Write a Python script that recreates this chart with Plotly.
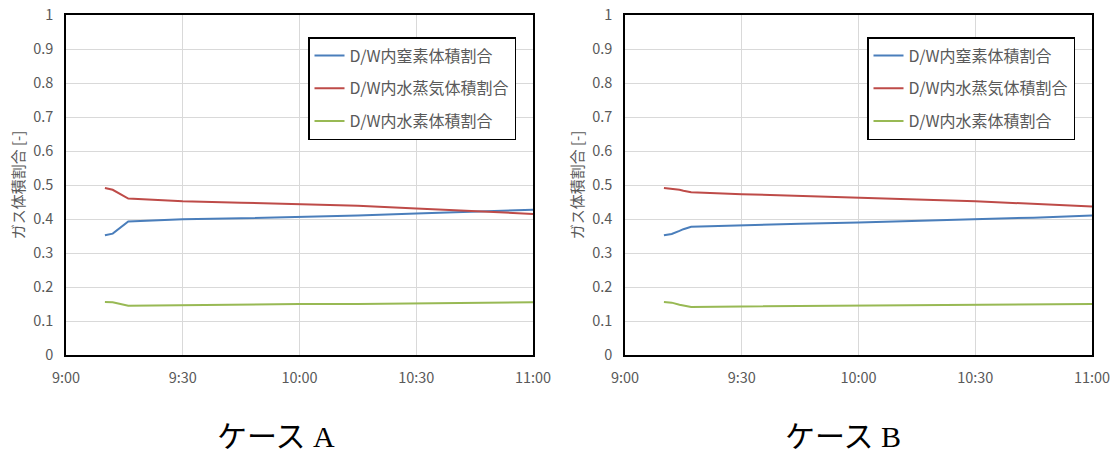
import plotly.graph_objects as go

# ---- data ----
times_a = ["09:10", "09:12", "09:16", "09:30", "09:45", "10:00", "10:15", "10:30", "10:45", "11:00"]
n2_a = [0.352, 0.357, 0.393, 0.399, 0.402, 0.405, 0.410, 0.416, 0.421, 0.427]
h2o_a = [0.491, 0.486, 0.460, 0.452, 0.448, 0.444, 0.439, 0.431, 0.424, 0.415]
h2_a = [0.156, 0.155, 0.145, 0.147, 0.148, 0.150, 0.150, 0.151, 0.153, 0.155]

times_b = ["09:10", "09:12", "09:14", "09:15", "09:17", "09:30", "09:45", "10:00", "10:15", "10:30", "10:45", "11:00"]
n2_b = [0.352, 0.356, 0.365, 0.370, 0.377, 0.382, 0.386, 0.390, 0.394, 0.399, 0.404, 0.410]
h2o_b = [0.491, 0.489, 0.486, 0.483, 0.479, 0.473, 0.467, 0.462, 0.457, 0.452, 0.445, 0.437]
h2_b = [0.156, 0.154, 0.148, 0.145, 0.141, 0.143, 0.144, 0.145, 0.145, 0.146, 0.148, 0.150]

series_names = ["D/W内窒素体積割合", "D/W内水蒸気体積割合", "D/W内水素体積割合"]
series_colors = ["#4a7ebb", "#be4b48", "#98b954"]
captions = ["ケース A", "ケース B"]
y_title = "ガス体積割合 [-]"
x_ticks = ["09:00", "09:30", "10:00", "10:30", "11:00"]
x_ticktext = ["9:00", "9:30", "10:00", "10:30", "11:00"]

DAY = "2000-01-01 "
FONT = "Noto Sans CJK JP, Noto Sans, sans-serif"
W, H = 1116, 455


def px(v):
    return v / W


def py(v):
    return 1 - v / H


fig = go.Figure()

panels = [
    (times_a, [n2_a, h2o_a, h2_a], "x", "y", "legend"),
    (times_b, [n2_b, h2o_b, h2_b], "x2", "y2", "legend2"),
]
for times, vals, xa, ya, lg in panels:
    for i, (name, col, v) in enumerate(zip(series_names, series_colors, vals)):
        fig.add_trace(go.Scatter(
            x=[DAY + t for t in times], y=v, mode="lines", name=name,
            line=dict(color=col, width=2), xaxis=xa, yaxis=ya, legend=lg,
            legendgroup=lg + str(i),
        ))

ydom = [py(355), py(15)]
xdoms = [[px(66), px(533)], [px(625), px(1092)]]

axis_common = dict(
    showline=True, linecolor="black", linewidth=1.5, mirror=True,
    showgrid=True, gridcolor="#d9d9d9", gridwidth=1,
    tickfont=dict(family=FONT, size=14.5, color="#595959"),
    ticks="", zeroline=False, automargin=False, ticklabeloverflow="allow",
)

for k, xd in enumerate(xdoms):
    sfx = "" if k == 0 else "2"
    fig.update_layout(**{
        "xaxis" + sfx: dict(
            domain=xd, type="date",
            range=[DAY + "09:00", DAY + "11:00"],
            tickvals=[DAY + t for t in x_ticks], ticktext=x_ticktext,
            anchor="y" + sfx, ticklabelstandoff=9, **axis_common,
        ),
        "yaxis" + sfx: dict(
            domain=ydom, range=[0, 1], dtick=0.1, tickformat="~g",
            anchor="x" + sfx, ticklabelstandoff=8,
            title=dict(text=y_title, font=dict(family=FONT, size=15, color="#595959"), standoff=5),
            **axis_common,
        ),
    })

leg_common = dict(
    bgcolor="white", bordercolor="black", borderwidth=1.5,
    font=dict(family=FONT, size=16, color="#595959"),
    xanchor="left", yanchor="top", tracegroupgap=9, itemwidth=30,
)
fig.update_layout(
    legend=dict(x=px(308), y=py(37), **leg_common),
    legend2=dict(x=px(867), y=py(37), **leg_common),
)

cap_x = [276, 843]
for k, cap in enumerate(captions):
    fig.add_annotation(
        text=cap, x=px(cap_x[k]), y=py(436), xref="paper", yref="paper",
        showarrow=False, xanchor="center", yanchor="middle", borderpad=0,
        font=dict(family="Liberation Serif, Noto Sans CJK JP, serif", size=30, color="black"),
    )

fig.update_layout(
    width=W, height=H, margin=dict(l=0, r=0, t=0, b=0),
    paper_bgcolor="white", plot_bgcolor="white", showlegend=True,
)

# remove the default 8px body margin so the figure fills the window exactly
fig.write_html(
    "out.html",
    config={"displayModeBar": False},
    post_script="document.body.style.margin='0';",
)
